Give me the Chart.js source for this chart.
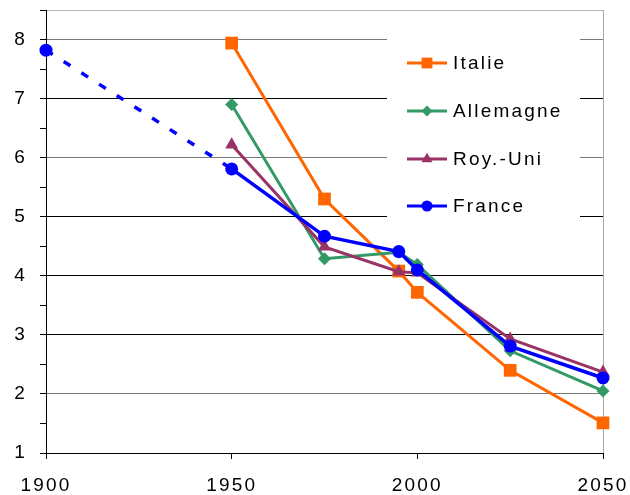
<!DOCTYPE html>
<html>
<head>
<meta charset="utf-8">
<script src="https://cdn.jsdelivr.net/npm/chart.js@4"></script>
<style>
  html, body { margin: 0; padding: 0; background: #fff; }
  #wrap { width: 630px; height: 495px; position: relative; }
</style>
</head>
<body>
<div id="wrap"><canvas id="c" width="630" height="495"></canvas></div>
<script>
// ---- data ----
const years     = [1900, 1950, 1975, 1995, 2000, 2025, 2050];
const italie    = [null, 7.94, 5.30, 4.08, 3.72, 2.40, 1.51];
const allemagne = [null, 6.90, 4.29, 4.40, 4.19, 2.73, 2.05];
const royUni    = [null, 6.22, 4.49, 4.07, 4.05, 2.93, 2.37];
const france    = [7.82, 5.81, 4.67, 4.41, 4.10, 2.81, 2.27];
const seriesNames = ['Italie', 'Allemagne', 'Roy.-Uni', 'France'];
const xTicks = [1900, 1950, 2000, 2050];
const yTicks = [1, 2, 3, 4, 5, 6, 7, 8];

function pts(arr) {
  return years.map((x, i) => ({ x: x, y: arr[i] })).filter(p => p.y !== null);
}

const FONT = "'Liberation Sans', Arial, sans-serif";
const SPACING = '2.2px';

const styles = [
  { color: '#FF6600', style: 'rect',     radius: 9,   width: 3 },
  { color: '#339966', style: 'rectRot',  radius: 6.5, width: 3 },
  { color: '#993366', style: 'triangle', radius: 7.5, width: 3 },
  { color: '#0000FF', style: 'circle',   radius: 6.5, width: 3.5 }
];
const seriesData = [italie, allemagne, royUni, france];

const datasets = seriesData.map((arr, i) => ({
  label: seriesNames[i],
  data: pts(arr),
  borderColor: styles[i].color,
  backgroundColor: styles[i].color,
  pointBackgroundColor: styles[i].color,
  pointBorderColor: styles[i].color,
  pointBorderWidth: 0,
  pointStyle: styles[i].style,
  pointRadius: styles[i].radius,
  borderWidth: styles[i].width,
  tension: 0,
  clip: false,
  order: 3 - i,
  segment: i === 3 ? { borderDash: ctx => ctx.p0DataIndex === 0 ? [8, 13] : undefined } : undefined
}));

const spacingPlugin = {
  id: 'spacing',
  beforeUpdate(chart) { try { chart.ctx.letterSpacing = SPACING; } catch (e) {} },
  beforeLayout(chart) { try { chart.ctx.letterSpacing = SPACING; } catch (e) {} },
  beforeDraw(chart) { try { chart.ctx.letterSpacing = SPACING; } catch (e) {} }
};

function drawMarker(ctx, style, x, y, r) {
  ctx.beginPath();
  if (style === 'rect') {
    const s = Math.SQRT1_2 * r;
    ctx.rect(x - s, y - s, 2 * s, 2 * s);
  } else if (style === 'rectRot') {
    ctx.moveTo(x - r, y); ctx.lineTo(x, y - r); ctx.lineTo(x + r, y); ctx.lineTo(x, y + r); ctx.closePath();
  } else if (style === 'triangle') {
    for (let k = 0; k < 3; k++) {
      const a = k * 2 * Math.PI / 3;
      const px = x + Math.sin(a) * r, py = y - Math.cos(a) * r;
      if (k === 0) ctx.moveTo(px, py); else ctx.lineTo(px, py);
    }
    ctx.closePath();
  } else {
    ctx.arc(x, y, r, 0, Math.PI * 2);
  }
  ctx.fill();
}

const legendPlugin = {
  id: 'insideLegend',
  beforeDatasetsDraw(chart) {
    const ctx = chart.ctx;
    ctx.save();
    ctx.fillStyle = '#fff';
    ctx.fillRect(387, 24, 193, 214);
    const rowsY = [63, 111, 159, 206];
    ctx.font = '19px ' + FONT;
    try { ctx.letterSpacing = SPACING; } catch (e) {}
    ctx.textBaseline = 'middle';
    ctx.textAlign = 'left';
    chart.data.datasets.forEach((ds, i) => {
      const y = rowsY[i];
      ctx.strokeStyle = ds.borderColor;
      ctx.lineWidth = 3;
      ctx.beginPath();
      ctx.moveTo(407, y); ctx.lineTo(447, y);
      ctx.stroke();
      ctx.fillStyle = ds.borderColor;
      drawMarker(ctx, styles[i].style, 427, y, styles[i].radius * 0.85);
      ctx.fillStyle = '#000';
      ctx.fillText(ds.label, 453, y + 1);
    });
    ctx.restore();
  }
};

const gridColorY = v => {
  if (v === 8.5) return '#b4b4b4';
  if (v % 1 !== 0) return 'transparent';
  if (v === 8 || v === 6 || v === 2) return '#7a7a7a';
  return '#000';
};

new Chart(document.getElementById('c'), {
  type: 'line',
  data: { datasets: datasets },
  plugins: [spacingPlugin, legendPlugin],
  options: {
    responsive: false,
    animation: false,
    layout: { padding: { top: 10, right: 27, bottom: 0, left: 0 } },
    plugins: { legend: { display: false }, tooltip: { enabled: false } },
    scales: {
      x: {
        type: 'linear',
        min: 1900, max: 2050,
        afterBuildTicks: s => { s.ticks = xTicks.map(v => ({ value: v })); },
        afterFit: s => { s.height = 42; s.paddingLeft = 0; s.paddingRight = 0; },
        ticks: {
          color: '#000',
          font: { family: FONT, size: 19 },
          padding: 15,
          maxRotation: 0,
          autoSkip: false,
          callback: v => String(v)
        },
        grid: {
          color: c => (c.tick && c.tick.value === 2050) ? '#a8a8a8' : 'transparent',
          tickColor: '#000',
          tickLength: 6,
          lineWidth: 1
        },
        border: { display: true, color: '#000', width: 1 }
      },
      y: {
        min: 1, max: 8.5,
        afterBuildTicks: s => {
          const t = [];
          for (let v = 1; v <= 8.5001; v += 0.5) t.push({ value: Math.round(v * 2) / 2 });
          s.ticks = t;
        },
        afterFit: s => { s.width = 46; s.paddingTop = 0; s.paddingBottom = 0; },
        ticks: {
          color: '#000',
          font: { family: FONT, size: 19 },
          padding: 13,
          autoSkip: false,
          callback: v => (yTicks.includes(v) ? String(v) : '')
        },
        grid: {
          color: c => gridColorY(c.tick ? c.tick.value : 0),
          tickColor: '#000',
          tickLength: 6,
          lineWidth: 1
        },
        border: { display: true, color: '#000', width: 1 }
      }
    }
  }
});
</script>
</body>
</html>
